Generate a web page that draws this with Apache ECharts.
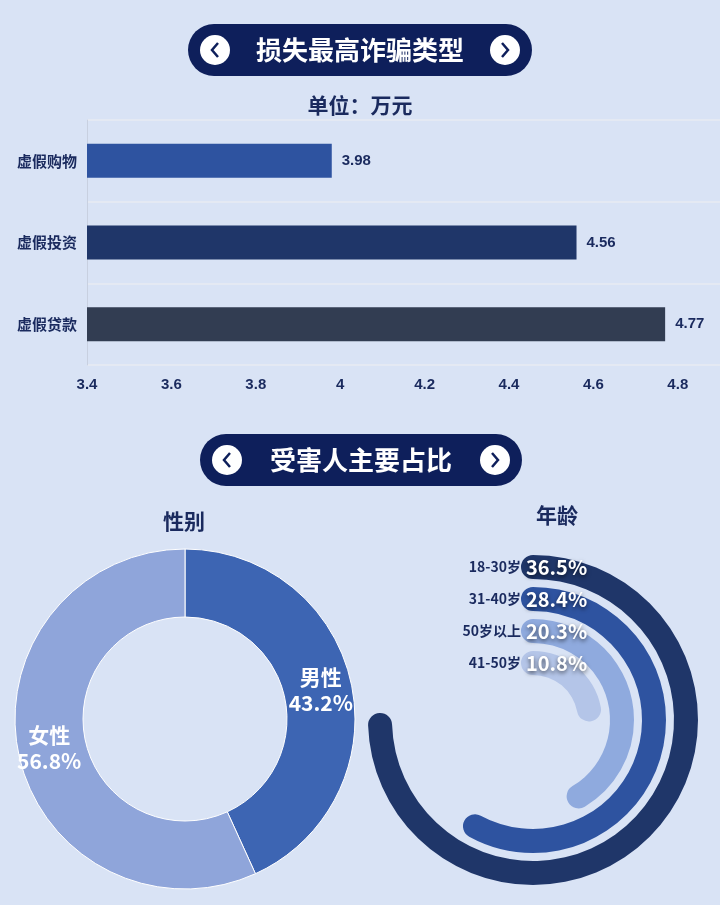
<!DOCTYPE html>
<html><head><meta charset="utf-8">
<script src="https://cdn.jsdelivr.net/npm/echarts@6/dist/echarts.min.js"></script>
<style>html,body{margin:0;background:#d9e3f5}#chart{width:720px;height:905px}</style>
</head><body><div id="chart"></div>
<script>
const fraudTypes = ['虚假贷款', '虚假投资', '虚假购物'];
const fraudLoss = [4.77, 4.56, 3.98];
const fraudColors = ['#323d52', '#1f3669', '#2e53a0'];
const genderNames = ['男性', '女性'];
const genderShare = [43.2, 56.8];
const ageGroups = ['41-50岁', '50岁以上', '31-40岁', '18-30岁'];
const ageShare = [10.8, 20.3, 28.4, 36.5];
const ageColors = ['#b4c5e8', '#8faade', '#2e53a0', '#1f3669'];

const FONT = '"Noto Sans CJK SC", sans-serif';
const NAVY = '#0e1f5b';
const TXT = '#1a2a5e';

function banner(cx, cy, w, text) {
    let h = 52, x0 = cx - w / 2;
    let chev = (x, dir) => ({
        type: 'polyline',
        shape: { points: [[x + 3 * dir, cy - 7], [x - 3 * dir, cy], [x + 3 * dir, cy + 7]] },
        style: { stroke: NAVY, lineWidth: 2.5, fill: null }
    });
    return [
        { type: 'rect', shape: { x: x0, y: cy - h / 2, width: w, height: h, r: 26 }, style: { fill: NAVY } },
        { type: 'circle', shape: { cx: x0 + 27, cy: cy, r: 15 }, style: { fill: '#fff' } },
        { type: 'circle', shape: { cx: x0 + w - 27, cy: cy, r: 15 }, style: { fill: '#fff' } },
        chev(x0 + 27, 1), chev(x0 + w - 27, -1),
        { type: 'text', x: cx, y: cy, style: { text: text, fill: '#fff', font: 'bold 26px ' + FONT, textAlign: 'center', textVerticalAlign: 'middle' } }
    ];
}

let option = {
    backgroundColor: '#d9e3f5',
    graphic: banner(360, 50, 344, '损失最高诈骗类型').concat(banner(361, 460, 322, '受害人主要占比')),
    title: [
        { text: '单位：万元', left: 'center', top: 90, textStyle: { color: TXT, fontSize: 21, fontWeight: 'bold', fontFamily: FONT } },
        { text: '性别', left: 158, top: 506, textStyle: { color: TXT, fontSize: 21, fontWeight: 'bold', fontFamily: FONT } },
        { text: '年龄', left: 531, top: 500, textStyle: { color: TXT, fontSize: 21, fontWeight: 'bold', fontFamily: FONT } }
    ],
    grid: { left: 87, right: 0, top: 120, bottom: 540 },
    xAxis: {
        type: 'value', min: 3.4, max: 4.9, interval: 0.2,
        axisLine: { show: false }, axisTick: { show: false }, splitLine: { show: false },
        axisLabel: { color: TXT, fontSize: 15, fontWeight: 'bold', margin: 12, showMaxLabel: false }
    },
    yAxis: {
        type: 'category', data: fraudTypes,
        axisLine: { lineStyle: { color: '#c8d0e0' } }, axisTick: { show: false },
        splitLine: { show: true, lineStyle: { color: '#e4e9f3', width: 2 } },
        axisLabel: { color: TXT, fontSize: 15, fontWeight: 'bold', fontFamily: FONT, margin: 10 }
    },
    polar: { center: [533, 720], radius: [41, 169] },
    angleAxis: { type: 'value', max: 49, startAngle: 90, clockwise: true, show: false },
    radiusAxis: {
        type: 'category', data: ageGroups,
        axisLine: { show: false }, axisTick: { show: false }, splitLine: { show: false },
        axisLabel: { interval: 0, hideOverlap: false, color: TXT, fontSize: 14, fontWeight: 'bold', fontFamily: FONT, margin: 12 }
    },
    series: [
        {
            type: 'bar', data: fraudLoss.map((v, i) => ({ value: v, itemStyle: { color: fraudColors[i] } })),
            barWidth: 34,
            label: { show: true, position: 'right', color: TXT, fontSize: 15, fontWeight: 'bold', distance: 10 }
        },
        {
            type: 'pie', center: [185, 719], radius: [102, 170], startAngle: 90, clockwise: true,
            itemStyle: { borderColor: '#fff', borderWidth: 1 },
            data: genderNames.map((n, i) => ({ name: n, value: genderShare[i], itemStyle: { color: ['#3d65b3', '#8fa5da'][i] } })),
            label: {
                show: true, position: 'inner', color: '#fff', fontSize: 21, fontWeight: 'bold', fontFamily: FONT,
                lineHeight: 26, formatter: p => p.name + '\n' + p.value + '%'
            },
            labelLine: { show: false }
        },
        {
            type: 'bar', coordinateSystem: 'polar', barWidth: 24, roundCap: true,
            data: ageShare.map((v, i) => ({ value: v, itemStyle: { color: ageColors[i] } })),
            label: {
                show: true, position: 'insideStart', rotate: 0, formatter: '{c}%', color: '#fff',
                fontSize: 20, fontWeight: 'bold', fontFamily: FONT,
                textShadowColor: 'rgba(0,0,0,0.6)', textShadowBlur: 4, textShadowOffsetY: 2
            }
        }
    ]
};

var myChart = echarts.init(document.getElementById('chart'));
myChart.setOption(option);
</script></body></html>
